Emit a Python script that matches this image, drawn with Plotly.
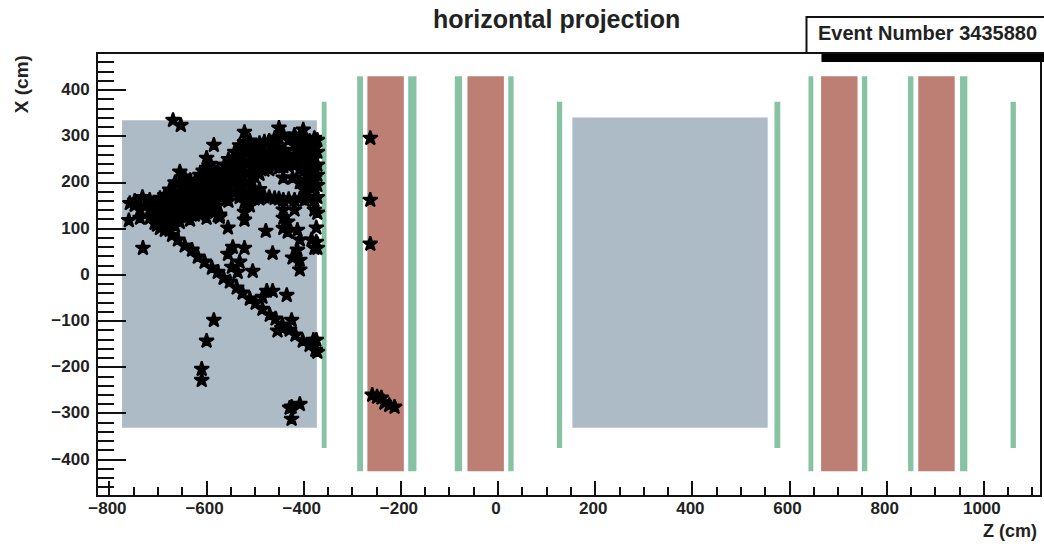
import plotly.graph_objects as go

title_text = "horizontal projection"
event_text = "Event Number 3435880"
x_label = "Z (cm)"
y_label = "X (cm)"

# (z_min, z_max, x_min, x_max)
blue_blocks = [(-774, -373, -331, 335), (153, 555, -331, 341)]
red_blocks = [(-269, -194, -425, 430), (-63, 12, -425, 430), (665, 740, -425, 430), (865, 940, -425, 430)]
green_tall = [(-290, -278, -425, 430), (-185, -168, -425, 430), (-89, -74, -425, 430), (21, 32, -425, 430),
              (639, 649, -425, 430), (749, 760, -425, 430), (844, 855, -425, 430), (951, 966, -425, 430)]
green_short = [(-363, -353, -375, 375), (121, 132, -375, 375), (569, 581, -375, 375), (1055, 1066, -375, 375)]

band_hits = [
    (-758, 155), (-748, 151), (-748, 160), (-732, 168), (-737, 141), (-737, 123), (-717, 162), (-717, 141),
    (-696, 166), (-696, 145), (-696, 123), (-696, 101), (-676, 184), (-676, 162), (-676, 141), (-676, 119), (-676, 97),
    (-655, 223), (-655, 201), (-655, 179), (-655, 157), (-655, 136), (-655, 114),
    (-634, 205), (-634, 184), (-634, 162), (-634, 141), (-634, 119),
    (-614, 216), (-614, 194), (-614, 172), (-614, 151), (-614, 130),
    (-600, 253), (-600, 231), (-600, 210), (-600, 188), (-600, 166), (-600, 145), (-600, 123),
    (-585, 281), (-585, 227), (-585, 205), (-585, 184), (-585, 162), (-585, 141),
    (-573, 205), (-573, 170), (-573, 130), (-573, 125),
    (-563, 238), (-563, 216), (-563, 194), (-563, 172),
    (-542, 266), (-542, 244), (-542, 223), (-542, 201), (-542, 179),
    (-522, 309), (-522, 287), (-522, 266), (-522, 244), (-522, 223), (-522, 201), (-522, 179), (-522, 157), (-522, 136), (-522, 119),
    (-501, 277), (-501, 255), (-501, 233), (-501, 212), (-501, 184), (-501, 165),
    (-481, 288), (-481, 266), (-481, 244), (-481, 227), (-481, 169),
    (-460, 296), (-460, 274), (-460, 253), (-460, 235), (-460, 166),
    (-451, 318),
    (-442, 303), (-442, 270), (-442, 249), (-442, 235), (-442, 210), (-442, 162), (-442, 141), (-442, 123), (-442, 101),
    (-419, 303), (-419, 281), (-419, 259), (-419, 238), (-423, 210), (-419, 162), (-419, 141),
    (-401, 314), (-398, 292), (-398, 270), (-398, 249), (-398, 227), (-398, 205), (-398, 184), (-398, 162),
    (-378, 296), (-378, 274), (-378, 253), (-378, 231), (-378, 210), (-378, 190), (-378, 162), (-378, 141),
    (-372, 292), (-372, 266), (-372, 238), (-372, 216), (-372, 194), (-372, 168), (-372, 134),
]
band_fill_hits = [
    (-727, 150), (-707, 152), (-707, 132), (-707, 112), (-686, 172), (-686, 152), (-686, 132), (-686, 112),
    (-665, 200), (-665, 175), (-665, 150), (-665, 128), (-665, 106), (-645, 212), (-645, 190), (-645, 168), (-645, 146), (-645, 124),
    (-624, 200), (-624, 176), (-624, 152), (-624, 130), (-607, 225), (-607, 200), (-607, 175), (-607, 150),
    (-592, 240), (-592, 215), (-592, 190), (-592, 165), (-592, 140), (-577, 225), (-577, 200), (-577, 175), (-577, 150), (-577, 128),
    (-555, 250), (-555, 228), (-555, 205), (-555, 182), (-555, 160), (-532, 280), (-532, 258), (-532, 235), (-532, 212), (-532, 190), (-532, 168),
    (-511, 290), (-511, 268), (-511, 245), (-511, 222), (-511, 200), (-511, 175), (-511, 150),
    (-491, 285), (-491, 262), (-491, 240), (-491, 218), (-491, 185), (-491, 165), (-471, 290), (-471, 268), (-471, 248), (-471, 228), (-471, 168),
    (-451, 295), (-451, 272), (-451, 250), (-451, 232), (-451, 165), (-431, 292), (-431, 255), (-431, 235), (-431, 164),
    (-408, 300), (-408, 275), (-408, 250), (-408, 228), (-408, 200), (-408, 165), (-388, 290), (-388, 265), (-388, 240), (-388, 215), (-388, 190), (-388, 165),
]
track_hits = [
    (-717, 123), (-702, 108), (-686, 97), (-671, 86), (-659, 76), (-645, 63), (-630, 54), (-618, 39), (-604, 28),
    (-589, 15), (-577, 6), (-565, -7), (-552, -15), (-538, -28), (-526, -39), (-511, -52), (-499, -61), (-485, -74),
    (-470, -87), (-458, -95), (-444, -108), (-429, -119), (-417, -130), (-402, -143), (-388, -152), (-376, -163), (-372, -167),
]
scattered_hits = [
    (-760, 118), (-731, 58), (-669, 335), (-653, 324),
    (-556, 102), (-478, 95), (-546, 60), (-556, 45), (-522, 58), (-464, 47), (-532, 28), (-548, 17), (-536, 6), (-505, 8),
    (-476, -35), (-485, -48), (-464, -35), (-435, -44), (-425, -98), (-454, -121), (-445, -115), (-380, -141), (-374, -141),
    (-585, -98), (-600, -143), (-610, -204), (-610, -228), (-408, -280), (-425, -286), (-429, -288), (-425, -312),
    (-433, 115), (-433, 93), (-413, 97), (-408, 76), (-413, 54), (-408, 32), (-408, 11), (-423, 37),
    (-374, 102), (-384, 76), (-374, 71), (-378, 58), (-372, 58),
]
iron_hits = [(-263, 296), (-263, 162), (-263, 67), (-259, -260), (-249, -264), (-240, -266), (-234, -277), (-224, -282), (-213, -286)]

BLUE, RED, GREEN = "#adbbc6", "#bd7f73", "#88c2a5"
FONT = "Liberation Sans"

fig = go.Figure()
def add_blocks(blocks, color, name):
    for z0, z1, x0, x1 in blocks:
        fig.add_trace(go.Scatter(x=[z0, z1, z1, z0, z0], y=[x0, x0, x1, x1, x0], mode="lines", fill="toself",
                                 fillcolor=color, line=dict(width=0), hoverinfo="skip", name=name))
add_blocks(blue_blocks, BLUE, "tracker")
add_blocks(red_blocks, RED, "iron")
add_blocks(green_tall, GREEN, "station")
add_blocks(green_short, GREEN, "station")

hits = band_hits + band_fill_hits + track_hits + scattered_hits + iron_hits
fig.add_trace(go.Scatter(x=[h[0] for h in hits], y=[h[1] for h in hits], mode="markers", name="hits",
                         marker=dict(symbol="star", size=11, color="black", line=dict(width=2, color="black"))))

L, T, W, H = 98, 54, 944, 441
px = lambda v: (v - L) / W
py = lambda v: 1 - (v - T) / H
TICK = dict(family=FONT, size=17, color="#222222", weight="bold")

fig.update_layout(
    width=1044, height=544, margin=dict(l=L, r=1044 - L - W, t=T, b=544 - T - H, pad=0),
    paper_bgcolor="white", plot_bgcolor="white", showlegend=False,
    font=dict(family=FONT, color="#111111"),
    xaxis=dict(range=[-823.5, 1115.6], showgrid=False, zeroline=False, showline=True, mirror=True, linecolor="#111111", linewidth=2,
               tick0=0, dtick=200, ticks="inside", ticklen=14, tickwidth=1.6, tickcolor="#111111",
               minor=dict(dtick=50, tick0=0, ticks="inside", ticklen=8, tickwidth=1.6, tickcolor="#111111"),
               tickfont=TICK, ticklabelstandoff=-3, ticklabelshift=-2),
    yaxis=dict(range=[-476.5, 478.2], showgrid=False, zeroline=False, showline=True, mirror=True, linecolor="#111111", linewidth=2,
               tick0=0, dtick=100, ticks="inside", ticklen=28, tickwidth=1.6, tickcolor="#111111",
               minor=dict(dtick=20, tick0=0, ticks="inside", ticklen=16, tickwidth=1.6, tickcolor="#111111"),
               tickfont=TICK, ticklabelstandoff=3, ticklabelshift=-1),
    shapes=[
        dict(type="rect", xref="paper", yref="paper", x0=px(823), x1=px(1046), y0=py(62), y1=py(53), fillcolor="black", line=dict(width=0), layer="above"),
        dict(type="rect", xref="paper", yref="paper", x0=px(808), x1=px(1060), y0=py(53), y1=py(17), fillcolor="white", line=dict(width=2, color="#111111"), layer="above"),
    ],
    annotations=[
        dict(text=f"<b>{title_text}</b>", xref="paper", yref="paper", x=px(557), y=py(19), xanchor="center", yanchor="middle", showarrow=False, font=dict(size=25, color="#222222")),
        dict(text=f"<b>{event_text}</b>", xref="paper", yref="paper", x=px(818), y=py(33), xanchor="left", yanchor="middle", showarrow=False, font=dict(size=20, color="#222222")),
        dict(text=f"<b>{x_label}</b>", xref="paper", yref="paper", x=px(1041), y=py(531), xanchor="right", yanchor="middle", showarrow=False, font=dict(size=18, color="#222222")),
        dict(text=f"<b>{y_label}</b>", xref="paper", yref="paper", x=px(22), y=py(84), xanchor="center", yanchor="middle", textangle=-90, showarrow=False, font=dict(size=19, color="#222222")),
    ],
)
fig.write_html("out.html", config=dict(displayModeBar=False), post_script="document.body.style.margin='0';")
